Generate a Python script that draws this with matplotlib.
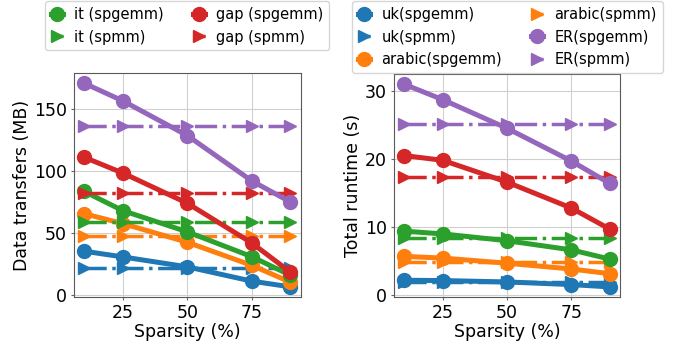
import matplotlib.pyplot as plt

sparsity = [10, 25, 50, 75, 90]

# data transfers (MB)
mb_uk_spgemm = [35.4, 30.8, 22.8, 11.3, 6.7]
mb_uk_spmm = [22, 22, 22, 22, 22]
mb_arabic_spgemm = [65.6, 57.6, 42.6, 24, 10.5]
mb_arabic_spmm = [47.4, 47.4, 47.4, 47.4, 47.4]
mb_it_spgemm = [83.5, 68, 51, 31, 16]
mb_it_spmm = [58.6, 58.6, 58.6, 58.6, 58.6]
mb_gap_spgemm = [111, 98.3, 74, 42, 18.5]
mb_gap_spmm = [82, 82, 82, 82, 82]
mb_er_spgemm = [170.6, 156.4, 128.5, 92, 75]
mb_er_spmm = [136.3, 136.3, 136.3, 136.3, 136.3]

# total runtime (s)
rt_uk_spgemm = [2.2, 2.15, 1.95, 1.56, 1.22]
rt_uk_spmm = [1.95, 1.95, 1.95, 1.95, 1.95]
rt_arabic_spgemm = [5.7, 5.45, 4.7, 3.85, 3.16]
rt_arabic_spmm = [4.95, 4.95, 4.95, 4.95, 4.95]
rt_it_spgemm = [9.4, 9.0, 8.0, 6.66, 5.3]
rt_it_spmm = [8.45, 8.45, 8.45, 8.45, 8.45]
rt_gap_spgemm = [20.5, 19.8, 16.6, 12.8, 9.7]
rt_gap_spmm = [17.35, 17.35, 17.35, 17.35, 17.35]
rt_er_spgemm = [30.96, 28.7, 24.5, 19.7, 16.4]
rt_er_spmm = [25.1, 25.1, 25.1, 25.1, 25.1]

names = ['uk', 'arabic', 'it', 'gap', 'ER']
colors = ['tab:blue', 'tab:orange', 'tab:green', 'tab:red', 'tab:purple']
mb = [(mb_uk_spgemm, mb_uk_spmm), (mb_arabic_spgemm, mb_arabic_spmm),
      (mb_it_spgemm, mb_it_spmm), (mb_gap_spgemm, mb_gap_spmm),
      (mb_er_spgemm, mb_er_spmm)]
rt = [(rt_uk_spgemm, rt_uk_spmm), (rt_arabic_spgemm, rt_arabic_spmm),
      (rt_it_spgemm, rt_it_spmm), (rt_gap_spgemm, rt_gap_spmm),
      (rt_er_spgemm, rt_er_spmm)]

plt.rcParams['font.size'] = 12.5

fig = plt.figure(figsize=(6.81, 3.45), dpi=100)
ax1 = fig.add_axes([0.1087, 0.139, 0.333, 0.649])
ax2 = fig.add_axes([0.5786, 0.139, 0.332, 0.646])

handles = {}
for ax, data in [(ax1, mb), (ax2, rt)]:
    for name, c, (g, s) in zip(names, colors, data):
        h1, = ax.plot(sparsity, g, '-o', color=c, lw=3.6, ms=10)
        h2, = ax.plot(sparsity, s, '-.>', color=c, lw=2.5, ms=9)
        handles[name] = (h1, h2)
    ax.grid(True, color='#d0d0d0')
    ax.set_axisbelow(True)
    ax.set_xlabel('Sparsity (%)', labelpad=1)
    ax.set_xticks([25, 50, 75])
    ax.tick_params(length=2, pad=3, color='0.4')
    for sp in ax.spines.values():
        sp.set_color('0.35')

ax1.set_yticks([0, 50, 100, 150])
ax1.set_ylabel('Data transfers (MB)', labelpad=2)
ax2.set_yticks([0, 10, 20, 30])
ax2.set_ylabel('Total runtime (s)', labelpad=2)

lh = [handles['it'][0], handles['it'][1], handles['gap'][0], handles['gap'][1]]
ll = ['it (spgemm)', 'it (spmm)', 'gap (spgemm)', 'gap (spmm)']
fig.legend(lh, ll, ncol=2, loc='upper center', bbox_to_anchor=(0.275, 1.0),
           borderaxespad=0.1, fontsize=10.5, handlelength=0.8, handletextpad=0.8)

rh = [handles['uk'][0], handles['uk'][1], handles['arabic'][0],
      handles['arabic'][1], handles['ER'][0], handles['ER'][1]]
rl = ['uk(spgemm)', 'uk(spmm)', 'arabic(spgemm)', 'arabic(spmm)',
      'ER(spgemm)', 'ER(spmm)']
fig.legend(rh, rl, ncol=2, loc='upper center', bbox_to_anchor=(0.745, 1.0),
           borderaxespad=0.1, fontsize=10.5, handlelength=0.8, handletextpad=0.8)

fig.savefig('out.png', dpi=100)
